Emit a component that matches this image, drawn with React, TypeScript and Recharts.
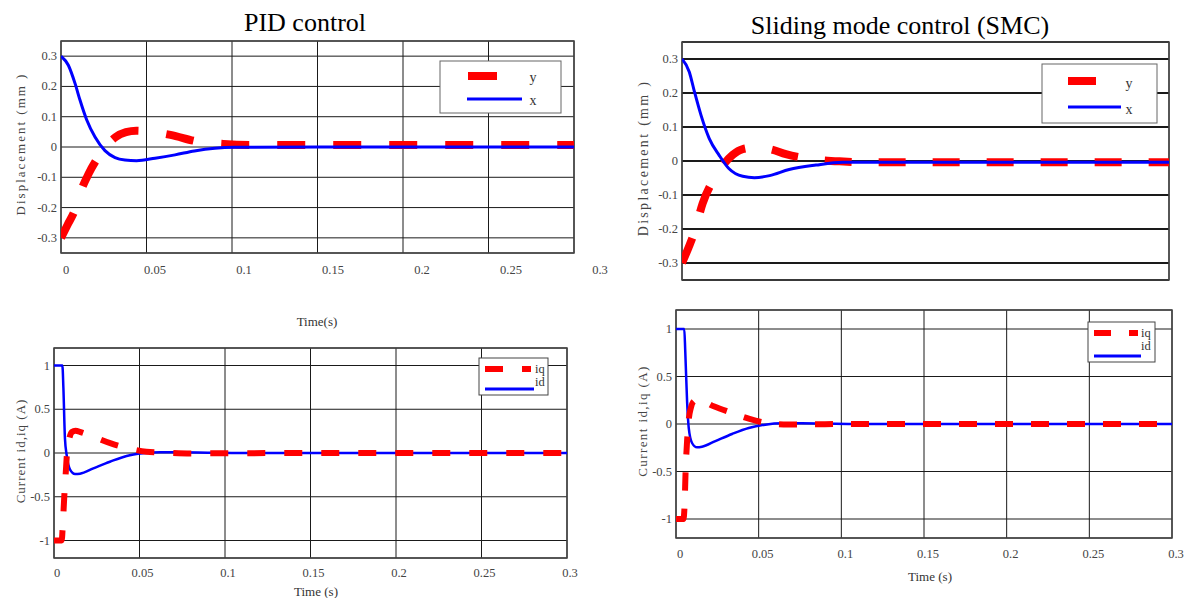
import { LineChart, Line, XAxis, YAxis, CartesianGrid, ReferenceArea } from 'recharts';

// shared axis ticks
const timeTicks = [0, 0.05, 0.1, 0.15, 0.2, 0.25, 0.3];
const timeTickLabels = ['0', '0.05', '0.1', '0.15', '0.2', '0.25', '0.3'];
const dispTicks = [-0.3, -0.2, -0.1, 0, 0.1, 0.2, 0.3];
const dispTickLabels = ['-0.3', '-0.2', '-0.1', '0', '0.1', '0.2', '0.3'];
const currTicks = [-1, -0.5, 0, 0.5, 1];
const currTickLabels = ['-1', '-0.5', '0', '0.5', '1'];

// PID displacement (x, y)
const pidXTime = [0, 0.0043, 0.0082, 0.0111, 0.015, 0.0199, 0.0257, 0.0316, 0.0374, 0.0442, 0.055, 0.0667, 0.078, 0.09, 0.1018, 0.15, 0.2, 0.25, 0.3];
const pidX = [0.3, 0.27, 0.21, 0.155, 0.09, 0.033, -0.012, -0.035, -0.043, -0.045, -0.037, -0.026, -0.013, -0.004, -0.001, 0, 0, 0, 0];
const pidYTime = [0, 0.004, 0.008, 0.012, 0.016, 0.021, 0.026, 0.032, 0.038, 0.044, 0.05, 0.064, 0.08, 0.095, 0.11, 0.15, 0.2, 0.25, 0.3];
const pidY = [-0.3, -0.255, -0.21, -0.14, -0.09, -0.04, 0, 0.033, 0.049, 0.054, 0.052, 0.04, 0.018, 0.01, 0.007, 0.007, 0.007, 0.007, 0.007];

// SMC displacement (x, y)
const smcXTime = [0, 0.0045, 0.0076, 0.0117, 0.0168, 0.023, 0.029, 0.0374, 0.0446, 0.054, 0.066, 0.0825, 0.099, 0.15, 0.2, 0.25, 0.3];
const smcX = [0.3, 0.262, 0.205, 0.135, 0.066, 0.016, -0.023, -0.045, -0.049, -0.043, -0.025, -0.012, -0.004, -0.004, -0.004, -0.004, -0.004];
const smcYTime = [0, 0.004, 0.0076, 0.0127, 0.021, 0.026, 0.0312, 0.0374, 0.0456, 0.055, 0.064, 0.0795, 0.097, 0.12, 0.15, 0.2, 0.25, 0.3];
const smcY = [-0.3, -0.255, -0.21, -0.125, -0.043, -0.008, 0.018, 0.035, 0.04, 0.034, 0.02, 0.006, -0.001, -0.004, -0.004, -0.004, -0.004, -0.004];

// PID currents (id, iq)
const pidIdTime = [0, 0.0049, 0.0055, 0.0064, 0.0074, 0.0094, 0.0123, 0.0152, 0.023, 0.0327, 0.0425, 0.052, 0.062, 0.0737, 0.09, 0.11, 0.15, 0.2, 0.25, 0.3];
const pidId = [1, 1, 0.74, 0.167, -0.023, -0.19, -0.24, -0.236, -0.175, -0.1, -0.034, -0.004, 0.008, 0.008, 0.004, 0, 0, 0, 0, 0];
const pidIqTime = [0, 0.0045, 0.0052, 0.006, 0.0068, 0.0078, 0.009, 0.0105, 0.0125, 0.016, 0.023, 0.0333, 0.0435, 0.054, 0.065, 0.08, 0.1, 0.15, 0.2, 0.25, 0.3];
const pidIq = [-1, -1, -0.8, -0.5, -0.25, 0.05, 0.17, 0.24, 0.255, 0.235, 0.186, 0.11, 0.053, 0.015, 0.004, -0.005, -0.003, 0, 0, 0, 0];

// SMC currents (id, iq)
const smcIdTime = [0, 0.005, 0.0056, 0.0067, 0.0077, 0.0097, 0.0127, 0.0157, 0.0238, 0.0339, 0.044, 0.054, 0.064, 0.076, 0.09, 0.11, 0.15, 0.2, 0.25, 0.3];
const smcId = [1, 1, 0.765, 0.24, -0.04, -0.2, -0.246, -0.24, -0.18, -0.105, -0.042, -0.007, 0.007, 0.007, 0.004, 0, 0, 0, 0, 0];
const smcIqTime = [0, 0.0045, 0.0052, 0.0058, 0.0067, 0.0077, 0.009, 0.0108, 0.0133, 0.0228, 0.0339, 0.044, 0.055, 0.065, 0.08, 0.1, 0.15, 0.2, 0.25, 0.3];
const smcIq = [-1, -1, -0.85, -0.5, -0.18, 0.046, 0.17, 0.24, 0.256, 0.186, 0.116, 0.056, 0.01, -0.004, -0.004, 0, 0, 0, 0, 0];

const toPoints = (t: number[], v: number[]) => t.map((time, i) => ({ t: time, v: v[i] }));

const FONT = '"Liberation Serif", "Times New Roman", serif';

function Panel(props: any) {
  const {
    box, margin, yWidth, xHeight, yDomain, yTicks, yLabels, red, blue,
    redWidth, redDash, blueWidth, blueOnTop, xLabelDy, xLabelShift, showXLabels, hGridWidth,
  } = props;

  const xTick = (p: any) => {
    const i = timeTicks.indexOf(p.payload.value);
    return (
      <text x={p.x + xLabelShift(i)} y={p.y + xLabelDy} textAnchor="middle" dominantBaseline="central"
        fontFamily={FONT} fontSize={12.5} fill="#444">
        {timeTickLabels[i]}
      </text>
    );
  };
  const yTick = (p: any) => {
    const i = yTicks.indexOf(p.payload.value);
    return (
      <text x={p.x - 4} y={p.y} textAnchor="end" dominantBaseline="central"
        fontFamily={FONT} fontSize={12.5} fill="#444">
        {yLabels[i]}
      </text>
    );
  };

  const redLine = (
    <Line key="red" data={red} dataKey="v" type="monotone" stroke="#ff0000" strokeWidth={redWidth}
      strokeDasharray={redDash} dot={false} activeDot={false} isAnimationActive={false} />
  );
  const blueLine = (
    <Line key="blue" data={blue} dataKey="v" type="monotone" stroke="#0000ff" strokeWidth={blueWidth}
      dot={false} activeDot={false} isAnimationActive={false} />
  );

  return (
    <div style={{ position: 'absolute', left: box[0], top: box[1] }}>
      <LineChart width={box[2]} height={box[3]} margin={margin} style={{ overflow: 'visible' }}>
        <CartesianGrid vertical={false} stroke="#1a1a1a" strokeWidth={hGridWidth} />
        <CartesianGrid horizontal={false} stroke="#1a1a1a" />
        <XAxis type="number" dataKey="t" domain={[0, 0.3]} ticks={timeTicks} allowDataOverflow
          height={xHeight} tickSize={0} tickMargin={0} axisLine={false} tickLine={false}
          tick={showXLabels ? xTick : false} />
        <YAxis type="number" dataKey="v" domain={yDomain} ticks={yTicks} allowDataOverflow
          width={yWidth} tickSize={0} tickMargin={0} axisLine={false} tickLine={false} tick={yTick} />
        <ReferenceArea x1={0} x2={0.3} y1={yDomain[0]} y2={yDomain[1]} fill="none"
          stroke="#444" strokeWidth={1.5} />
        {blueOnTop ? [redLine, blueLine] : [blueLine, redLine]}
      </LineChart>
    </div>
  );
}

export default function App() {
  return (
    <div style={{ position: 'absolute', left: 0, top: 0, width: 1189, height: 598, background: '#fff', overflow: 'hidden' }}>
      <Panel
        box={[0, 30, 620, 300]} margin={{ top: 11, right: 46, bottom: 0, left: 0 }}
        yWidth={61} xHeight={77} yDomain={[-0.35, 0.35]} yTicks={dispTicks} yLabels={dispTickLabels}
        red={toPoints(pidYTime, pidY)} blue={toPoints(pidXTime, pidX)}
        redWidth={8} redDash="28 28" blueWidth={3} blueOnTop
        xLabelDy={17} xLabelShift={(i: number) => 5 + i * 3.5} showXLabels hGridWidth={1}
      />
      <Panel
        box={[620, 30, 569, 270]} margin={{ top: 12, right: 20, bottom: 0, left: 0 }}
        yWidth={62} xHeight={20} yDomain={[-0.35, 0.35]} yTicks={dispTicks} yLabels={dispTickLabels}
        red={toPoints(smcYTime, smcY)} blue={toPoints(smcXTime, smcX)}
        redWidth={8} redDash="27 27" blueWidth={3} blueOnTop
        xLabelDy={0} xLabelShift={() => 0} showXLabels={false} hGridWidth={2}
      />
      <Panel
        box={[0, 340, 600, 258]} margin={{ top: 8, right: 33, bottom: 0, left: 0 }}
        yWidth={54} xHeight={40} yDomain={[-1.2, 1.2]} yTicks={currTicks} yLabels={currTickLabels}
        red={toPoints(pidIqTime, pidIq)} blue={toPoints(pidIdTime, pidId)}
        redWidth={6} redDash="18 19" blueWidth={2.5} blueOnTop={false}
        xLabelDy={15} xLabelShift={() => 3} showXLabels hGridWidth={1}
      />
      <Panel
        box={[620, 300, 569, 298]} margin={{ top: 10, right: 17, bottom: 0, left: 0 }}
        yWidth={56} xHeight={60} yDomain={[-1.2, 1.2]} yTicks={currTicks} yLabels={currTickLabels}
        red={toPoints(smcIqTime, smcIq)} blue={toPoints(smcIdTime, smcId)}
        redWidth={6} redDash="18 18" blueWidth={2.5} blueOnTop={false}
        xLabelDy={16} xLabelShift={() => 4} showXLabels hGridWidth={1}
      />

      {/* titles, axis labels and legends */}
      <svg width={1189} height={598} style={{ position: 'absolute', left: 0, top: 0, pointerEvents: 'none' }}
        fontFamily={FONT}>
        <text x={305} y={22} textAnchor="middle" dominantBaseline="central" fontSize={26} fill="#000">PID control</text>
        <text x={900} y={25} textAnchor="middle" dominantBaseline="central" fontSize={26} fill="#000">Sliding mode control (SMC)</text>

        <text x={317} y={321} textAnchor="middle" dominantBaseline="central" fontSize={13} fill="#333">Time(s)</text>
        <text x={316} y={591} textAnchor="middle" dominantBaseline="central" fontSize={13} fill="#333">Time (s)</text>
        <text x={930} y={576} textAnchor="middle" dominantBaseline="central" fontSize={13} fill="#333">Time (s)</text>

        <text transform="translate(20,144) rotate(-90)" textAnchor="middle" dominantBaseline="central"
          fontSize={13} letterSpacing={2} fill="#444">Displacement (mm )</text>
        <text transform="translate(643,158) rotate(-90)" textAnchor="middle" dominantBaseline="central"
          fontSize={14} letterSpacing={2.3} fill="#444">Displacement (mm )</text>
        <text transform="translate(20,451) rotate(-90)" textAnchor="middle" dominantBaseline="central"
          fontSize={13} letterSpacing={1} fill="#444">Current id,iq (A)</text>
        <text transform="translate(642,421) rotate(-90)" textAnchor="middle" dominantBaseline="central"
          fontSize={13} letterSpacing={1.4} fill="#444">Current id,iq (A)</text>

        {/* legend PID displacement */}
        <rect x={440} y={61} width={121} height={52} fill="#fff" stroke="#666" strokeWidth={1} />
        <rect x={468} y={72} width={29} height={8} fill="#ff0000" />
        <line x1={467} y1={99} x2={522} y2={99} stroke="#0000ff" strokeWidth={3} />
        <text x={533} y={77} textAnchor="middle" dominantBaseline="central" fontSize={14} fill="#333">y</text>
        <text x={533} y={100} textAnchor="middle" dominantBaseline="central" fontSize={14} fill="#333">x</text>

        {/* legend SMC displacement */}
        <rect x={1042} y={64} width={115} height={59} fill="#fff" stroke="#666" strokeWidth={1} />
        <rect x={1068} y={77} width={28} height={8} fill="#ff0000" />
        <line x1={1068} y1={107} x2={1121} y2={107} stroke="#0000ff" strokeWidth={3} />
        <text x={1129} y={83} textAnchor="middle" dominantBaseline="central" fontSize={14} fill="#333">y</text>
        <text x={1129} y={109} textAnchor="middle" dominantBaseline="central" fontSize={14} fill="#333">x</text>

        {/* legend PID currents */}
        <rect x={479} y={358} width={69} height={37} fill="#fff" stroke="#444" strokeWidth={1} />
        <line x1={485} y1={369} x2={531} y2={369} stroke="#ff0000" strokeWidth={6} strokeDasharray="18 19" />
        <line x1={485} y1={389} x2={534} y2={389} stroke="#0000ff" strokeWidth={3} />
        <text x={535} y={369} dominantBaseline="central" fontSize={12.5} fill="#333">iq</text>
        <text x={535} y={382} dominantBaseline="central" fontSize={12.5} fill="#333">id</text>

        {/* legend SMC currents */}
        <rect x={1088} y={322} width={67} height={40} fill="#fff" stroke="#444" strokeWidth={1} />
        <line x1={1094} y1={333} x2={1138} y2={333} stroke="#ff0000" strokeWidth={6} strokeDasharray="17 18" />
        <line x1={1094} y1={356} x2={1141} y2={356} stroke="#0000ff" strokeWidth={3} />
        <text x={1141} y={333} dominantBaseline="central" fontSize={12.5} fill="#333">iq</text>
        <text x={1141} y={346} dominantBaseline="central" fontSize={12.5} fill="#333">id</text>
      </svg>
    </div>
  );
}
